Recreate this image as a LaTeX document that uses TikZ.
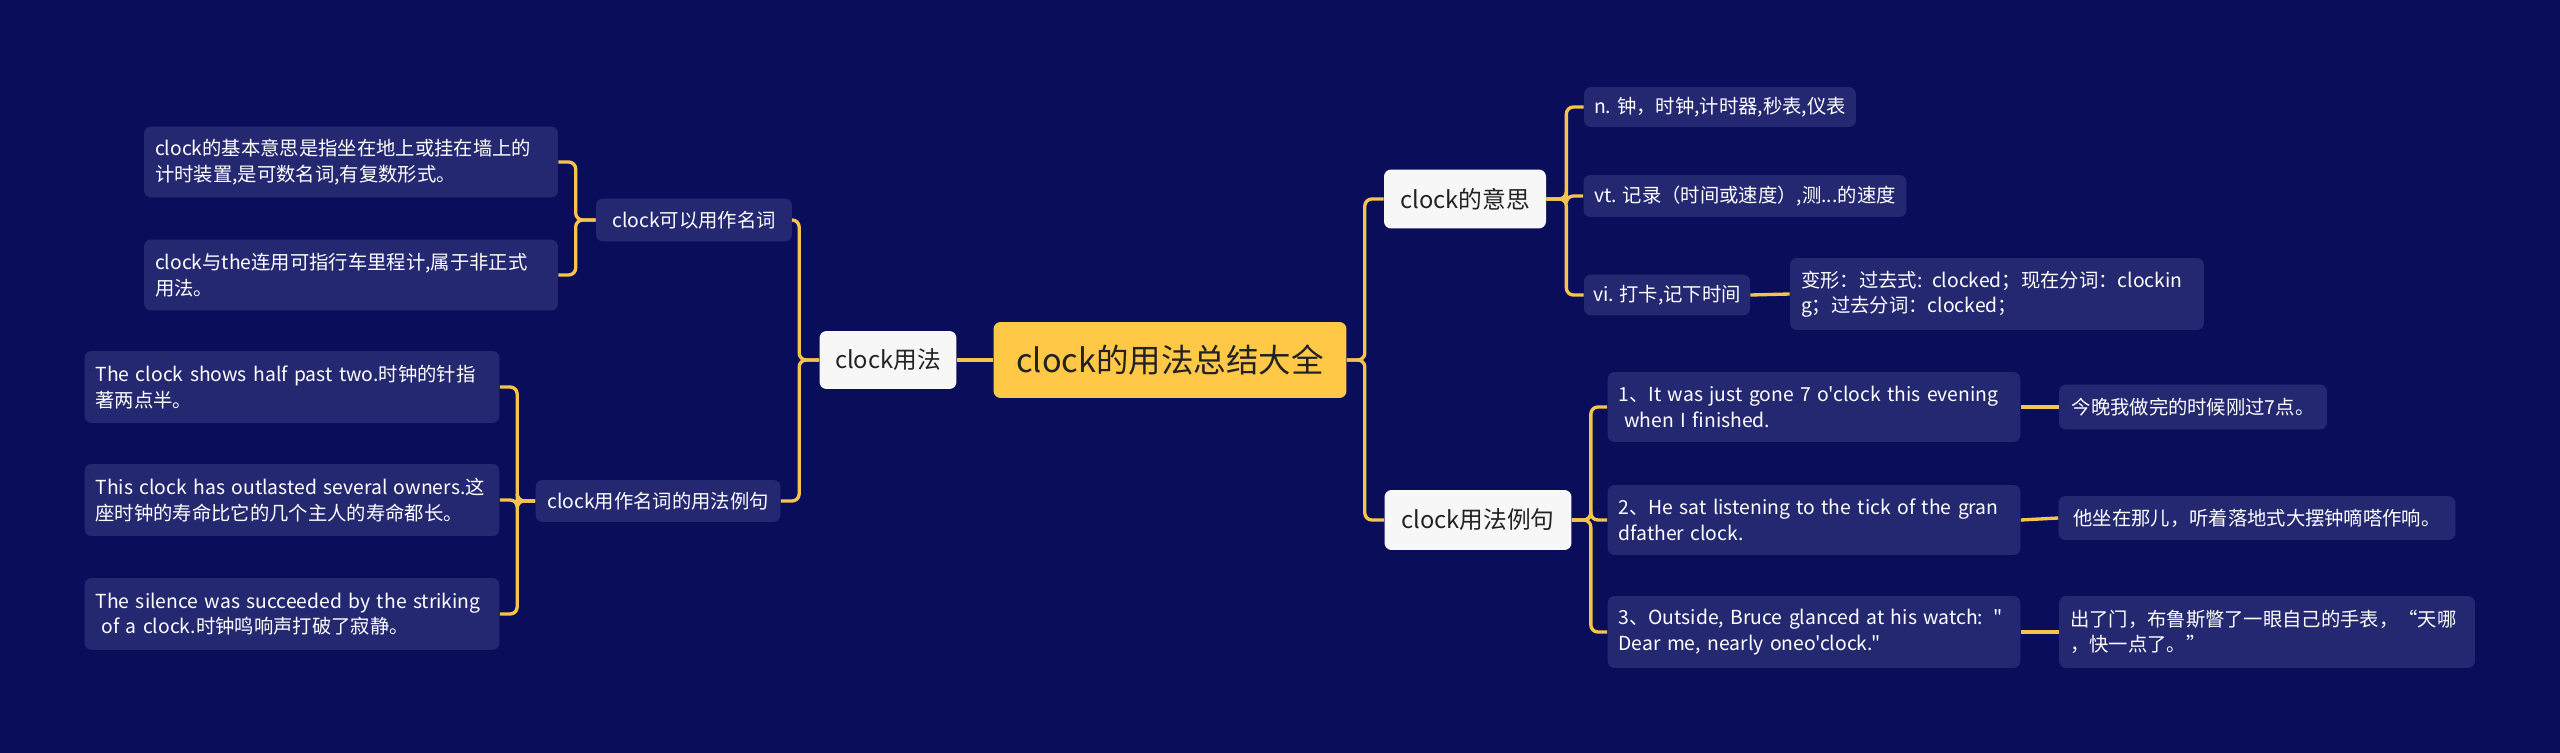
\documentclass[tikz,border=0pt]{standalone}
\usepackage{fontspec}
\setmainfont{Noto Sans CJK SC}[Ligatures=TeXOff]
\usetikzlibrary{positioning}

\definecolor{navy}{RGB}{10,14,90}
\definecolor{leafblue}{RGB}{36,40,112}
\definecolor{rootyellow}{RGB}{255,200,70}
\definecolor{linkyellow}{RGB}{245,196,76}
\definecolor{paper}{RGB}{247,247,247}
\definecolor{ink}{RGB}{34,34,34}

\tikzset{
  rootbox/.style={fill=rootyellow, text=ink, rounded corners=4pt, inner sep=0pt,
    font=\fontsize{18.5}{22}\selectfont},
  topic/.style={fill=paper, text=ink, rounded corners=4pt, inner sep=0pt,
    font=\fontsize{13.5}{16}\selectfont},
  subtopic/.style={fill=leafblue, text=white, rounded corners=4pt, inner sep=0pt,
    font=\fontsize{11}{14}\selectfont},
  leaf/.style={fill=leafblue, text=white, rounded corners=4pt, inner xsep=0.22cm,
    inner ysep=0pt, align=left, font=\fontsize{11}{14.5}\selectfont},
  link/.style={draw=linkyellow, line width=1.9pt, rounded corners=4pt},
}

\begin{document}
\begin{tikzpicture}[x=0.02cm, y=-0.02cm]
    \fill[navy] (0,0) rectangle (2560,753);

    \node[rootbox, minimum width=7.06cm, minimum height=1.52cm] (root) at (1170,360) {clock的用法总结大全};

    \node[topic, minimum width=2.74cm, minimum height=1.16cm] (use) at (888,360) {clock用法};
    \node[subtopic, minimum width=3.92cm, minimum height=0.86cm] (noun) at (694,220) {clock可以用作名词};
    \node[subtopic, minimum width=4.9cm, minimum height=0.84cm] (nounex) at (658,501) {clock用作名词的用法例句};

    \node[leaf, text width=7.84cm, minimum height=1.42cm] (basic) at (351,162) {clock的基本意思是指坐在地上或挂在墙上的\\计时装置,是可数名词,有复数形式。};
    \node[leaf, text width=7.84cm, minimum height=1.42cm] (odometer) at (351,275) {clock与the连用可指行车里程计,属于非正式\\用法。};
    \node[leaf, text width=7.86cm, minimum height=1.44cm] (shows) at (292,387) {The clock shows half past two.时钟的针指\\著两点半。};
    \node[leaf, text width=7.86cm, minimum height=1.44cm] (outlast) at (292,500) {This clock has outlasted several owners.这\\座时钟的寿命比它的几个主人的寿命都长。};
    \node[leaf, text width=7.86cm, minimum height=1.44cm] (silence) at (292,614) {The silence was succeeded by the striking\\\hspace{0.3em}of a clock.时钟鸣响声打破了寂静。};

    \node[topic, minimum width=3.24cm, minimum height=1.18cm] (mean) at (1465,199) {clock的意思};
    \node[topic, minimum width=3.74cm, minimum height=1.2cm] (ex) at (1478,520) {clock用法例句};

    \node[leaf, inner xsep=0pt, minimum width=5.44cm, minimum height=0.8cm] (nmean) at (1720,107) {n. 钟，时钟,计时器,秒表,仪表};
    \node[leaf, inner xsep=0pt, minimum width=6.46cm, minimum height=0.84cm] (vtmean) at (1745,196) {vt. 记录（时间或速度）,测...的速度};
    \node[leaf, inner xsep=0pt, minimum width=3.32cm, minimum height=0.82cm] (vimean) at (1667,295) {vi. 打卡,记下时间};
    \node[leaf, text width=7.84cm, minimum height=1.44cm] (forms) at (1997,294) {变形：过去式: clocked；现在分词：clockin\\g；过去分词：clocked；};

    \node[leaf, text width=7.82cm, minimum height=1.4cm] (exone) at (1814,407) {1、It was just gone 7 o'clock this evening\\\hspace{0.3em}when I finished.};
    \node[leaf, text width=7.82cm, minimum height=1.4cm] (extwo) at (1814,520) {2、He sat listening to the tick of the gran\\dfather clock.};
    \node[leaf, text width=7.82cm, minimum height=1.44cm] (exthree) at (1814,632) {3、Outside, Bruce glanced at his watch: "\\Dear me, nearly oneo'clock."};

    \node[leaf, inner xsep=0pt, minimum width=5.36cm, minimum height=0.9cm] (zhone) at (2193,407) {今晚我做完的时候刚过7点。};
    \node[leaf, inner xsep=0pt, minimum width=7.94cm, minimum height=0.88cm] (zhtwo) at (2257,518) {他坐在那儿，听着落地式大摆钟嘀嗒作响。};
    \node[leaf, text width=7.88cm, minimum height=1.44cm] (zhthree) at (2267,632) {出了门，布鲁斯瞥了一眼自己的手表，“天哪\\，快一点了。”};

    \draw[link] (root.west) -- (use.east);
    \draw[link] (use.west) -- ++(-20,0) |- (noun.east);
    \draw[link] (use.west) -- ++(-20,0) |- (nounex.east);
    \draw[link] (noun.west) -- ++(-20,0) |- (basic.east);
    \draw[link] (noun.west) -- ++(-20,0) |- (odometer.east);
    \draw[link] (nounex.west) -- ++(-18,0) |- (shows.east);
    \draw[link] (nounex.west) -- ++(-18,0) |- (outlast.east);
    \draw[link] (nounex.west) -- ++(-18,0) |- (silence.east);

    \draw[link] (root.east) -- ++(18,0) |- (mean.west);
    \draw[link] (root.east) -- ++(18,0) |- (ex.west);
    \draw[link] (mean.east) -- ++(20,0) |- (nmean.west);
    \draw[link] (mean.east) -- ++(20,0) |- (vtmean.west);
    \draw[link] (mean.east) -- ++(20,0) |- (vimean.west);
    \draw[link] (vimean.east) -- (forms.west);
    \draw[link] (ex.east) -- ++(19,0) |- (exone.west);
    \draw[link] (ex.east) -- ++(19,0) |- (extwo.west);
    \draw[link] (ex.east) -- ++(19,0) |- (exthree.west);
    \draw[link] (exone.east) -- (zhone.west);
    \draw[link] (extwo.east) -- (zhtwo.west);
    \draw[link] (exthree.east) -- (zhthree.west);
\end{tikzpicture}
\end{document}
